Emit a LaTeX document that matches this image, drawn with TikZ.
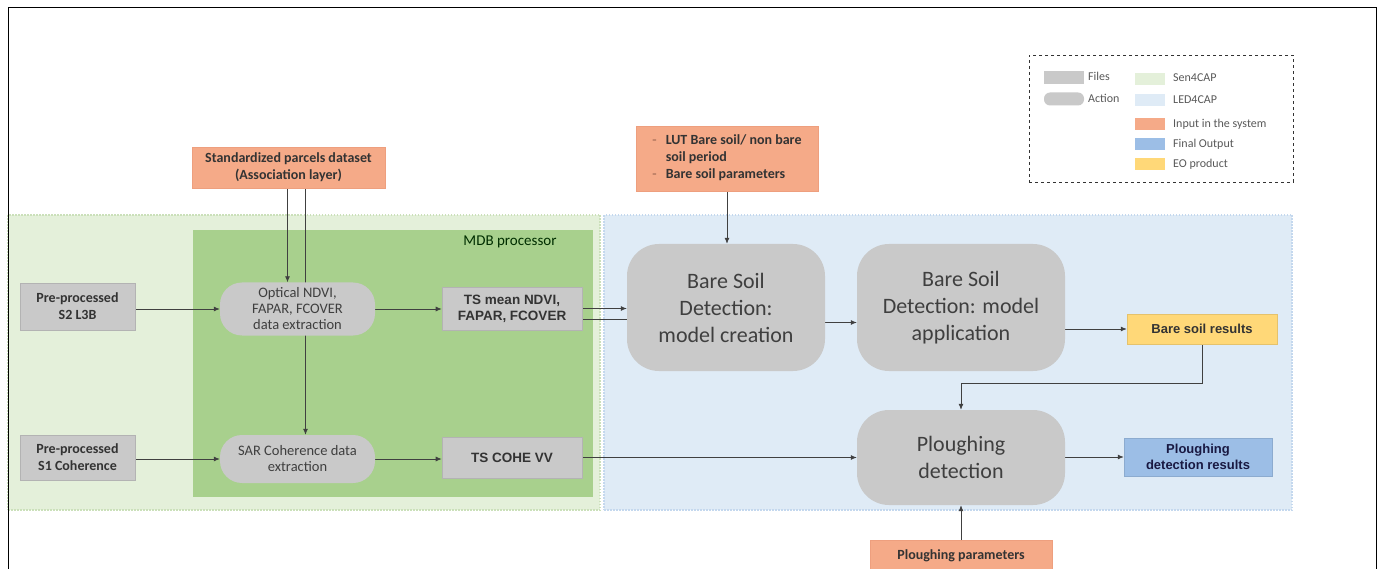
\documentclass[tikz,border=0pt]{standalone}
\usepackage{fontspec}
\setmainfont{Carlito}
\newfontfamily\arialf{Liberation Sans}
\usetikzlibrary{arrows.meta}
\definecolor{fileg}{HTML}{C9C9C9}
\definecolor{fileb}{HTML}{B3B3B3}
\definecolor{salmon}{HTML}{F5AA88}
\definecolor{salmonb}{HTML}{EE9F7E}
\definecolor{yel}{HTML}{FFD878}
\definecolor{outb}{HTML}{9CBEE6}
\definecolor{lgreen}{HTML}{E4F0DA}
\definecolor{lgreenb}{HTML}{CBE0BA}
\definecolor{mdb}{HTML}{A8D08D}
\definecolor{lblue}{HTML}{DFEBF6}
\definecolor{lblueb}{HTML}{C4D8EE}
\definecolor{txt}{HTML}{333333}
\definecolor{bigtxt}{HTML}{3F3F3F}
\definecolor{linec}{HTML}{404040}
\pgfdeclarelayer{bg}
\pgfdeclarelayer{edges}
\pgfsetlayers{bg,edges,main}
\begin{document}
\begin{tikzpicture}[x=1pt,y=-1pt,
  box/.style={inner sep=2pt, align=center, text=txt},
  filebox/.style={box, fill=fileg, draw=fileb, line width=0.6pt,
    font=\fontsize{14}{17}\selectfont\bfseries},
  tsbox/.style={box, fill=fileg, draw=fileb, line width=0.6pt,
    font=\arialf\fontsize{13.5}{16}\selectfont\bfseries},
  actsmall/.style={box, fill=fileg, draw=none, rounded corners=22pt,
    font=\fontsize{14.5}{16}\selectfont, text=bigtxt},
  actbig/.style={box, fill=fileg, draw=none, rounded corners=32pt,
    font=\fontsize{22}{27}\selectfont, text=bigtxt},
  inbox/.style={box, fill=salmon, draw=salmonb, line width=0.5pt,
    font=\fontsize{14}{17}\selectfont\bfseries},
  eobox/.style={box, fill=yel, draw=yel!90!black, line width=0.5pt,
    font=\arialf\fontsize{13}{16}\selectfont\bfseries},
  outbox/.style={box, fill=outb, draw=outb!90!black, line width=0.5pt,
    font=\arialf\fontsize{13}{16}\selectfont\bfseries, text=black!80!blue!80!gray},
  regG/.style={fill=lgreen, draw=lgreenb, line width=2pt, dash pattern=on 1.5pt off 1.5pt, inner sep=0pt},
  regB/.style={fill=lblue, draw=lblueb, line width=2pt, dash pattern=on 1.5pt off 1.5pt, inner sep=0pt},
  arr/.style={draw=linec, line width=0.8pt, -{Latex[length=6pt,width=5pt]}},
  ln/.style={draw=linec, line width=0.8pt},
  legtxt/.style={anchor=west, inner sep=0pt, font=\fontsize{12}{13}\selectfont, text=black!65},
  sw/.style={inner sep=0pt, minimum width=30pt, minimum height=12pt}
]
\useasboundingbox (0,0) rectangle (1384,569);

\begin{pgfonlayer}{bg}
\fill[white] (0,0) rectangle (1384,569);
\node[regG, minimum width=592pt, minimum height=295pt] (sen) at (304,362.5) {};
\node[regB, minimum width=688pt, minimum height=295pt] (led) at (948,362.5) {};
\node[fill=mdb, inner sep=0pt, minimum width=400pt, minimum height=267pt] (mdbp) at (393,363.5) {};
\end{pgfonlayer}
\draw[line width=1pt] (8,569) -- (8,8) -- (1376,8) -- (1376,569);

\node[inner sep=0pt, font=\fontsize{15}{17}\selectfont, text=black!70!green!60!black] (mdbl) at (510,242) {MDB processor};

% Legend
\node[draw=black!80, dashed, line width=0.8pt, minimum width=264pt, minimum height=127pt, inner sep=0pt] (leg) at (1161,118.5) {};
\node[fill=fileg, inner sep=0pt, minimum width=40pt, minimum height=13pt] (lf) at (1064,78) {};
\node[legtxt] (lft) at (1088,76) {Files};
\node[fill=fileg, rounded corners=6pt, inner sep=0pt, minimum width=40pt, minimum height=13pt] (la) at (1064,99) {};
\node[legtxt] (lat) at (1088,98) {Action};
\node[sw, fill=lgreen] (s1w) at (1150,79) {};
\node[legtxt] (s1t) at (1173,78) {Sen4CAP};
\node[sw, fill=lblue] (s2w) at (1150,100) {};
\node[legtxt] (s2t) at (1173,100) {LED4CAP};
\node[sw, fill=salmon] (s3w) at (1150,124) {};
\node[legtxt] (s3t) at (1173,124) {Input in the system};
\node[sw, fill=outb] (s4w) at (1150,144) {};
\node[legtxt] (s4t) at (1173,144) {Final Output};
\node[sw, fill=yel] (s5w) at (1150,164) {};
\node[legtxt] (s5t) at (1173,164) {EO product};

% Nodes
\node[inbox, minimum width=193pt, minimum height=41pt] (parcels) at (288.5,167.5) {Standardized parcels dataset\\(Association layer)};
\node[filebox, minimum width=115pt, minimum height=47pt] (s2) at (77.5,306.5) {Pre-processed\\S2 L3B};
\node[actsmall, minimum width=155pt, minimum height=53pt] (opt) at (297.5,309) {Optical NDVI,\\FAPAR, FCOVER\\data extraction};
\node[tsbox, minimum width=140pt, minimum height=43pt] (tsn) at (512,308.5) {TS mean NDVI,\\FAPAR, FCOVER};
\node[filebox, minimum width=115pt, minimum height=45pt] (s1) at (77.5,457.5) {Pre-processed\\S1 Coherence};
\node[actsmall, minimum width=155pt, minimum height=48pt] (sar) at (297.5,459) {SAR Coherence data\\extraction};
\node[tsbox, minimum width=140pt, minimum height=41pt] (tsc) at (512,457.5) {TS COHE VV};
\node[inbox, minimum width=182pt, minimum height=65pt] (lut) at (727,158.5)
  {\begin{tabular}{@{}l@{\hspace{9pt}}l@{}}\textcolor{salmonb!75!black}{-} & LUT Bare soil/ non bare\\ & soil period\\ \textcolor{salmonb!75!black}{-} & Bare soil parameters\end{tabular}};
\node[actbig, minimum width=198pt, minimum height=127pt] (bsc) at (726,307.5) {Bare Soil\\Detection:\\model creation};
\node[actbig, minimum width=208pt, minimum height=127pt] (bsa) at (961,307.5) {Bare Soil\\Detection: model\\application};
\node[eobox, minimum width=150pt, minimum height=30pt] (bsr) at (1202,329) {Bare soil results};
\node[actbig, minimum width=208pt, minimum height=95pt] (pl) at (961,457.5) {Ploughing\\detection};
\node[outbox, minimum width=148pt, minimum height=38pt] (pdr) at (1198,457) {Ploughing\\detection results};
\node[inbox, minimum width=182pt, minimum height=32pt] (pp) at (961,556) {Ploughing parameters};

\coordinate (k) at (0,383);

\begin{pgfonlayer}{edges}
\draw[arr] ([xshift=-10pt]opt.north |- parcels.south) -- ([xshift=-10pt]opt.north);
\draw[arr] ([xshift=8pt]opt.north |- parcels.south) -- ([xshift=8pt]sar.north);
\draw[arr] (s2.east |- opt.west) -- (opt.west);
\draw[arr] (opt.east) -- (opt.east -| tsn.west);
\draw[arr] (s1.east |- sar.west) -- (sar.west);
\draw[arr] (sar.east) -- (sar.east -| tsc.west);
\draw[arr] (tsn.east) -- (tsn.east -| bsc.west);
\draw[ln] ([yshift=-11pt]tsn.east) -- ([yshift=-11pt]tsn.east -| bsc.west);
\draw[arr] (lut.south) -- (lut.south |- bsc.north);
\draw[arr] ([yshift=-15pt]bsc.east) -- ([yshift=-15pt]bsc.east -| bsa.west);
\draw[arr] (bsr.west -| bsa.east) -- (bsr.west);
\draw[arr] (bsr.south) -- (bsr.south |- k) -- (pl.north |- k) -- (pl.north);
\draw[arr] (tsc.east) -- (tsc.east -| pl.west);
\draw[arr] (pdr.west -| pl.east) -- (pdr.west);
\draw[arr] (pp.north) -- (pl.south);
\end{pgfonlayer}
\end{tikzpicture}
\end{document}
